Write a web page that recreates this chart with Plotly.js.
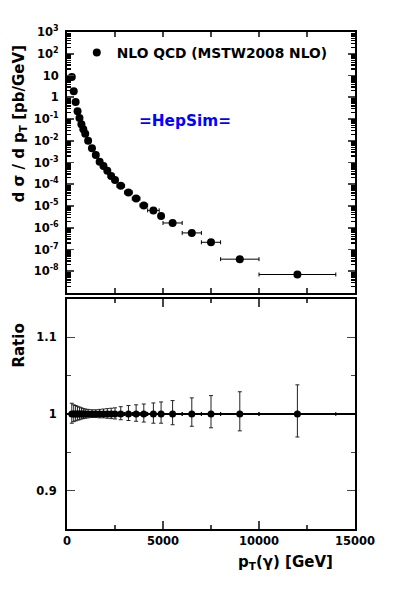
<!DOCTYPE html>
<html>
<head>
<meta charset="utf-8">
<script src="https://cdn.plot.ly/plotly-3.0.1.min.js"></script>
<style>
  html, body { margin: 0; padding: 0; background: #fff; }
  #chart { width: 395px; height: 606px; }
</style>
</head>
<body>
<div id="chart"></div>
<script>
// pT bin centres [GeV] and half widths
const pt = [250, 350, 450, 550, 650, 750, 850, 950, 1100, 1300, 1500, 1700, 1900, 2100,
    2300, 2500, 2800, 3200, 3600, 4000, 4500, 4900, 5500, 6500, 7500, 9000, 12000];
const binHalf = [50, 50, 50, 50, 50, 50, 50, 50, 100, 100, 100, 100, 100, 100,
    100, 100, 200, 200, 200, 200, 300, 100, 500, 500, 500, 1000, 2000];

// d sigma / d pT [pb/GeV]
const xsec = [8.5, 1.9, 0.61, 0.23, 0.11, 0.057, 0.034, 0.021, 0.010, 0.0045, 0.0022, 0.00107,
    7.0e-4, 4.2e-4, 2.4e-4, 1.55e-4, 8.5e-5, 4.2e-5, 2.2e-5, 1.07e-5, 6.3e-6, 3.5e-6,
    1.66e-6, 5.8e-7, 2.15e-7, 3.6e-8, 7.1e-9];

// ratio and its uncertainties
const ratio = [1, 1, 1, 1, 1, 1, 1, 1, 1, 1, 1, 1, 1, 1, 1, 1, 1, 1, 1, 1, 1, 1, 1, 1, 1, 1, 1];
const errUp = [0.014, 0.012, 0.011, 0.010, 0.009, 0.008, 0.007, 0.0065, 0.006, 0.0055, 0.0055, 0.006,
    0.0065, 0.007, 0.0075, 0.008, 0.0095, 0.011, 0.012, 0.013, 0.0144, 0.0157, 0.0175, 0.021,
    0.024, 0.029, 0.038];
const errDown = [0.012, 0.010, 0.009, 0.008, 0.0075, 0.0065, 0.006, 0.0055, 0.005, 0.0045, 0.0045, 0.005,
    0.005, 0.0055, 0.006, 0.0065, 0.0075, 0.0085, 0.0095, 0.0105, 0.012, 0.012, 0.014, 0.016,
    0.018, 0.022, 0.030];

const yTickVals = [1e3, 1e2, 10, 1, 1e-1, 1e-2, 1e-3, 1e-4, 1e-5, 1e-6, 1e-7, 1e-8];
const yTickText = ['10<sup>3</sup>', '10<sup>2</sup>', '10', '1', '10<sup>-1</sup>', '10<sup>-2</sup>',
    '10<sup>-3</sup>', '10<sup>-4</sup>', '10<sup>-5</sup>', '10<sup>-6</sup>', '10<sup>-7</sup>', '10<sup>-8</sup>'];

// minor log ticks 2..9 in every decade
const minorVals = [];
for (let e = -9; e < 3; e++) {
    for (let m = 2; m <= 9; m++) minorVals.push(m * Math.pow(10, e));
}

const data = [
    {
        x: pt,
        y: xsec,
        type: 'scatter',
        mode: 'markers',
        name: 'NLO QCD (MSTW2008 NLO)',
        marker: {color: 'black', size: 8},
        error_x: {type: 'data', array: binHalf, color: 'black', thickness: 1, width: 2},
        xaxis: 'x',
        yaxis: 'y'
    },
    {
        // carrier for the minor-tick axis, not visible
        x: pt,
        y: xsec,
        type: 'scatter',
        mode: 'markers',
        marker: {opacity: 0},
        showlegend: false,
        hoverinfo: 'skip',
        xaxis: 'x',
        yaxis: 'y3'
    },
    {
        x: pt,
        y: ratio,
        type: 'scatter',
        mode: 'markers',
        showlegend: false,
        marker: {color: 'black', size: 7},
        error_x: {type: 'data', array: binHalf, color: 'black', thickness: 1, width: 2},
        error_y: {type: 'data', symmetric: false, array: errUp, arrayminus: errDown,
            color: '#222', thickness: 1, width: 2},
        xaxis: 'x2',
        yaxis: 'y2'
    }
];

const font = {family: 'DejaVu Sans', color: 'black', weight: 'bold'};

const layout = {
    width: 395,
    height: 606,
    margin: {l: 67, r: 40, t: 32, b: 77},
    paper_bgcolor: 'white',
    plot_bgcolor: 'white',
    font: font,
    showlegend: true,
    legend: {
        x: 0.034, y: 0.99, xanchor: 'left', yanchor: 'top',
        bgcolor: 'rgba(0,0,0,0)',
        font: {family: 'DejaVu Sans', size: 13.8, weight: 'bold', color: 'black'}
    },
    xaxis: {
        domain: [0, 1], anchor: 'y', range: [0, 15000], matches: 'x2',
        showticklabels: false, showgrid: false, zeroline: false,
        ticks: 'inside', ticklen: 5, tickwidth: 1.5, dtick: 2500,
        showline: true, linewidth: 2, linecolor: 'black', mirror: 'ticks'
    },
    yaxis: {
        domain: [0.4748, 1], anchor: 'x', type: 'log', range: [-9, 3],
        tickmode: 'array', tickvals: yTickVals, ticktext: yTickText,
        tickfont: {family: 'DejaVu Sans', size: 11.5, weight: 'bold'},
        showgrid: false, zeroline: false,
        ticks: 'inside', ticklen: 7, tickwidth: 1.6, ticklabelstandoff: 4,
        showline: true, linewidth: 2, linecolor: 'black', mirror: 'ticks'
    },
    yaxis3: {
        overlaying: 'y', anchor: 'x', side: 'left', type: 'log', range: [-9, 3],
        tickmode: 'array', tickvals: minorVals, showticklabels: false,
        showgrid: false, zeroline: false, showline: false,
        ticks: 'inside', ticklen: 4, tickwidth: 1.3, tickcolor: 'black', mirror: 'ticks'
    },
    xaxis2: {
        domain: [0, 1], anchor: 'y2', range: [0, 15000],
        tickvals: [0, 5000, 10000, 15000], ticktext: ['0', '5000', '10000', '15000'],
        tickfont: {family: 'DejaVu Sans', size: 11.5, weight: 'bold'},
        showgrid: false, zeroline: false,
        ticks: 'inside', ticklen: 8, tickwidth: 1.5,
        minor: {ticks: 'inside', ticklen: 4, dtick: 2500, showgrid: false},
        showline: true, linewidth: 2, linecolor: 'black', mirror: 'ticks'
    },
    yaxis2: {
        domain: [0, 0.4628], anchor: 'x2', range: [0.85, 1.15],
        tickvals: [0.9, 1, 1.1], ticktext: ['0.9', '1', '1.1'],
        tickfont: {family: 'DejaVu Sans', size: 11.5, weight: 'bold'},
        showgrid: false, zeroline: false,
        ticks: 'inside', ticklen: 8, tickwidth: 1.5, ticklabelstandoff: 6,
        minor: {ticks: 'inside', ticklen: 4, dtick: 0.05, showgrid: false},
        showline: true, linewidth: 2, linecolor: 'black', mirror: 'ticks'
    },
    shapes: [
        {type: 'line', xref: 'x2 domain', yref: 'y2', x0: 0, x1: 1, y0: 1, y1: 1,
            line: {color: 'black', width: 2}}
    ],
    annotations: [
        {text: 'd σ / d p<sub>T</sub> [pb/GeV]', textangle: -90, xref: 'paper', yref: 'paper',
            x: -0.165, y: 0.815, xanchor: 'center', yanchor: 'middle', showarrow: false,
            font: {family: 'DejaVu Sans', size: 15, weight: 'bold'}},
        {text: 'Ratio', textangle: -90, xref: 'paper', yref: 'paper',
            x: -0.165, y: 0.37, xanchor: 'center', yanchor: 'middle', showarrow: false,
            font: {family: 'DejaVu Sans', size: 15, weight: 'bold'}},
        {text: 'p<sub>T</sub>(γ) [GeV]', xref: 'paper', yref: 'paper',
            x: 0.76, y: -0.045, xanchor: 'center', yanchor: 'top', showarrow: false,
            font: {family: 'DejaVu Sans', size: 15, weight: 'bold'}},
        {text: '=HepSim=', xref: 'paper', yref: 'paper',
            x: 0.41, y: 0.82, xanchor: 'center', yanchor: 'middle', showarrow: false,
            font: {family: 'DejaVu Sans', size: 15.3, weight: 'bold', color: 'blue'}}
    ]
};

Plotly.newPlot('chart', data, layout, {staticPlot: true, displayModeBar: false});
</script>
</body>
</html>
